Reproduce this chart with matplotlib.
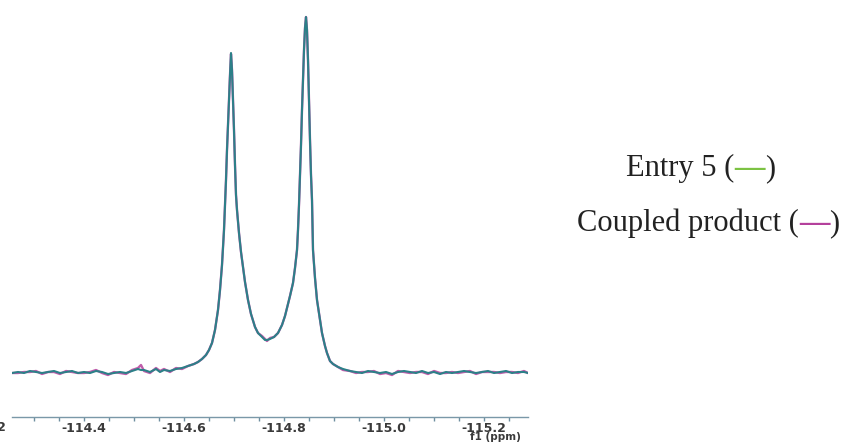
import matplotlib
matplotlib.use("Agg")
import matplotlib.pyplot as plt
from matplotlib.ticker import MultipleLocator, FixedLocator
from matplotlib.transforms import blended_transform_factory

# 19F NMR trace (ppm, arbitrary intensity), read point by point
ppm = [
    -114.256, -114.268, -114.280, -114.292, -114.304, -114.316, -114.328, -114.340,
    -114.352, -114.364, -114.376, -114.388, -114.400, -114.412, -114.424, -114.436,
    -114.448, -114.460, -114.472, -114.484, -114.496, -114.508, -114.514, -114.520,
    -114.532, -114.544, -114.552, -114.560, -114.572, -114.584, -114.596, -114.608,
    -114.620, -114.628, -114.636, -114.644, -114.650, -114.656, -114.662, -114.668,
    -114.672, -114.676, -114.680, -114.682, -114.684, -114.686, -114.688, -114.690,
    -114.692, -114.694, -114.696, -114.698, -114.700, -114.702, -114.704, -114.706,
    -114.710, -114.714, -114.718, -114.722, -114.728, -114.734, -114.742, -114.748,
    -114.756, -114.762, -114.766, -114.772, -114.780, -114.788, -114.796, -114.802,
    -114.806, -114.812, -114.818, -114.822, -114.826, -114.828, -114.830, -114.832,
    -114.834, -114.836, -114.838, -114.840, -114.842, -114.844, -114.846, -114.848,
    -114.850, -114.852, -114.854, -114.856, -114.858, -114.862, -114.866, -114.872,
    -114.876, -114.882, -114.886, -114.892, -114.898, -114.908, -114.918, -114.932,
    -114.944, -114.956, -114.968, -114.980, -114.992, -115.004, -115.016, -115.028,
    -115.040, -115.052, -115.064, -115.076, -115.088, -115.100, -115.112, -115.124,
    -115.136, -115.148, -115.160, -115.172, -115.184, -115.196, -115.208, -115.220,
    -115.232, -115.244, -115.256, -115.268, -115.280, -115.288,
]

entry5 = [
    -1, 0, -1, 1, 0, -1, 0, 1,
    -1, 0, 1, -1, 0, -1, 1, 0,
    -2, -1, 0, -1, 1, 3, 2, 2,
    0, 3, 0, 2, 1, 3, 4, 6,
    8, 10, 13, 17, 22, 29, 42, 62,
    82, 107, 142, 167, 192, 222, 247, 272,
    297, 319, 302, 272, 242, 207, 177, 162,
    139, 120, 105, 90, 72, 58, 45, 39,
    35, 32, 32, 33, 35, 39, 47, 56,
    64, 76, 89, 104, 122, 142, 167, 197,
    227, 262, 292, 322, 344, 355, 342, 312,
    272, 232, 197, 172, 122, 94, 72, 52,
    39, 26, 19, 11, 8, 5, 3, 1,
    0, -1, 1, 0, -1, 0, -2, 0,
    1, 0, -1, 1, -1, 0, -2, 0,
    -1, 0, 1, 0, -1, 0, 1, -1,
    0, 1, -1, 0, 0, -1,
]

coupled = [
    -1, -1, 0, 0, 1, -2, 0, 0,
    -2, 1, 0, -1, -1, 0, 2, -1,
    -3, 0, -1, -2, 2, 4, 7, 1,
    -1, 4, 1, 3, 0, 4, 3, 6,
    8, 10, 13, 17, 22, 29, 42, 62,
    82, 107, 142, 167, 192, 222, 247, 272,
    297, 318, 302, 272, 242, 207, 177, 162,
    139, 120, 105, 90, 72, 58, 45, 39,
    36, 33, 31, 34, 35, 39, 47, 56,
    64, 76, 89, 104, 122, 142, 167, 197,
    227, 262, 292, 322, 344, 355, 342, 312,
    272, 232, 197, 172, 122, 94, 72, 52,
    39, 26, 19, 11, 8, 5, 2, 1,
    -1, 0, 0, 1, -2, -1, -3, 1,
    0, -1, 0, 0, -2, 1, -1, -1,
    0, -1, 0, 1, -2, 0, 0, 0,
    -1, 0, 0, -1, 1, -1,
]

tick_labels = ["-114.4", "-114.6", "-114.8", "-115.0", "-115.2"]
tick_values = [-114.4, -114.6, -114.8, -115.0, -115.2]
edge_label = "-114.2"
edge_value = -114.2
axis_label = "f1 (ppm)"

series_names = ["Entry 5", "Coupled product"]
series_colors = ["#7cc243", "#b4409c"]
trace_color = "#2c8088"

fig = plt.figure(figsize=(8.46, 4.42), dpi=100)
ax = fig.add_axes([12 / 846, 25 / 442, 516 / 846, 417 / 442])

ax.plot(ppm, coupled, color=series_colors[1], lw=1.7, alpha=0.85, zorder=2)
ax.plot(ppm, entry5, color=trace_color, lw=1.5, zorder=3)

ax.set_xlim(ppm[0], ppm[-1])
ax.set_ylim(-45, 372)

for side in ("top", "left", "right"):
    ax.spines[side].set_visible(False)
ax.spines["bottom"].set_color("#7a98a8")
ax.spines["bottom"].set_linewidth(1.0)
ax.set_yticks([])

tick_font = dict(fontsize=9, fontweight="bold", color="#3a3a3a")

ax.xaxis.set_major_locator(FixedLocator(tick_values))
ax.xaxis.set_minor_locator(MultipleLocator(0.05))
ax.set_xticklabels(tick_labels)
ax.tick_params(axis="x", which="both", direction="out", length=3, width=1.0,
               color="#6f8fa0", pad=0.5, labelsize=tick_font["fontsize"],
               labelcolor=tick_font["color"])
for lab in ax.get_xticklabels():
    lab.set_fontweight("bold")

# label for the tick that sits just past the left edge
trans = blended_transform_factory(ax.transData, ax.transAxes)
ax.text(edge_value, -0.0085, edge_label, transform=trans, ha="center", va="top",
        clip_on=False, **tick_font)

fig.text(521 / 846, 0.0, axis_label, ha="right", va="bottom",
         fontsize=7.5, fontweight="bold", color="#3a3a3a")

# legend lines: text with a coloured dash
serif = "Liberation Serif"
fs = 22


def colored_entry(x, y, name, color):
    t1 = fig.text(x, y, name + " (", fontsize=fs, family=serif, color="#222222",
                  ha="left", va="bottom")
    t2 = ax.annotate("\u2014", xy=(1, 0), xycoords=t1, ha="left", va="bottom",
                     fontsize=fs, family=serif, fontweight="bold", color=color)
    ax.annotate(")", xy=(1, 0), xycoords=t2, ha="left", va="bottom",
                fontsize=fs, family=serif, color="#222222")


colored_entry(626 / 846, 1 - 183 / 442, series_names[0], series_colors[0])
colored_entry(577 / 846, 1 - 238 / 442, series_names[1], series_colors[1])

fig.savefig("out.png", dpi=100)
